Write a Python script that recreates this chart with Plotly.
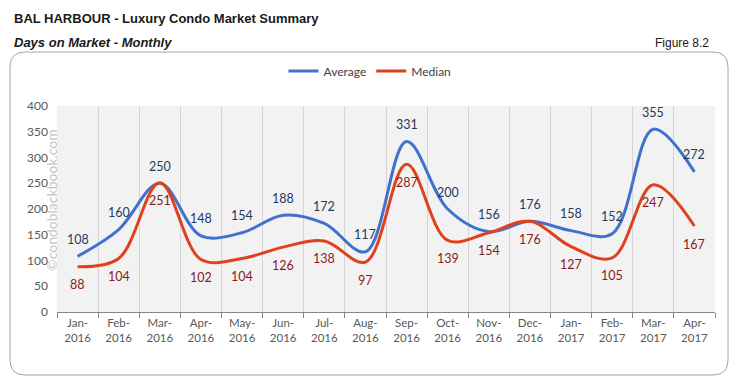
import plotly.graph_objects as go

months = ["Jan-<br>2016", "Feb-<br>2016", "Mar-<br>2016", "Apr-<br>2016", "May-<br>2016", "Jun-<br>2016",
          "Jul-<br>2016", "Aug-<br>2016", "Sep-<br>2016", "Oct-<br>2016", "Nov-<br>2016", "Dec-<br>2016",
          "Jan-<br>2017", "Feb-<br>2017", "Mar-<br>2017", "Apr-<br>2017"]
average = [108, 160, 250, 148, 154, 188, 172, 117, 331, 200, 156, 176, 158, 152, 355, 272]
median = [88, 104, 251, 102, 104, 126, 138, 97, 287, 139, 154, 176, 127, 105, 247, 167]

W, H = 739, 381
L, R, T, B = 57, 24, 106, 69
PW, PH = W - L - R, H - T - B

def px(x):
    return (x - L) / PW

def py(y):
    return (H - B - y) / PH

BLUE = "#4170CD"
RED = "#E0401C"
FONT = "Lato, 'Open Sans', sans-serif"

fig = go.Figure()
fig.add_trace(go.Scatter(x=months, y=average, mode="lines", name="Average",
                         line=dict(color=BLUE, width=3, shape="spline", smoothing=1.0)))
fig.add_trace(go.Scatter(x=months, y=median, mode="lines", name="Median",
                         line=dict(color=RED, width=3, shape="spline", smoothing=1.0)))

annotations = []
for m, v in zip(months, average):
    annotations.append(dict(x=m, y=v, xref="x", yref="y", text=str(v), showarrow=False,
                            yshift=17, font=dict(family=FONT, size=12.5, color="#243A5E")))
for m, v in zip(months, median):
    annotations.append(dict(x=m, y=v, xref="x", yref="y", text=str(v), showarrow=False,
                            yshift=-18, font=dict(family=FONT, size=12.5, color="#8B1A1A")))

annotations += [
    dict(x=px(12), y=py(18), xref="paper", yref="paper", xanchor="left", yanchor="middle",
         text="<b>BAL HARBOUR - Luxury Condo Market Summary</b>", showarrow=False,
         font=dict(family="Liberation Sans, Arial, sans-serif", size=13, color="#1a1a1a")),
    dict(x=px(12), y=py(43), xref="paper", yref="paper", xanchor="left", yanchor="middle",
         text="<b><i>Days on Market - Monthly</i></b>", showarrow=False,
         font=dict(family="Liberation Sans, Arial, sans-serif", size=13, color="#1a1a1a")),
    dict(x=px(711), y=py(43), xref="paper", yref="paper", xanchor="right", yanchor="middle",
         text="Figure 8.2", showarrow=False,
         font=dict(family="Liberation Sans, Arial, sans-serif", size=12, color="#1a1a1a")),
    dict(x=px(51), y=py(200), xref="paper", yref="paper", xanchor="center", yanchor="middle",
         text="©condoblackbook.com", textangle=-90, showarrow=False,
         font=dict(family=FONT, size=14, color="#C4C4C4")),
]

# rounded border
x0, x1, y0, y1, r = 10, 728, 52, 375, 15
path = (f"M {px(x0 + r)} {py(y0)} L {px(x1 - r)} {py(y0)} Q {px(x1)} {py(y0)} {px(x1)} {py(y0 + r)} "
        f"L {px(x1)} {py(y1 - r)} Q {px(x1)} {py(y1)} {px(x1 - r)} {py(y1)} "
        f"L {px(x0 + r)} {py(y1)} Q {px(x0)} {py(y1)} {px(x0)} {py(y1 - r)} "
        f"L {px(x0)} {py(y0 + r)} Q {px(x0)} {py(y0)} {px(x0 + r)} {py(y0)} Z")

fig.update_layout(
    width=W, height=H,
    margin=dict(l=L, r=R, t=T, b=B),
    paper_bgcolor="white",
    plot_bgcolor="#F2F2F2",
    showlegend=True,
    legend=dict(orientation="h", x=px(370), y=py(71), xanchor="center", yanchor="middle",
                font=dict(family=FONT, size=12, color="#404040"), itemwidth=30,
                bgcolor="rgba(0,0,0,0)"),
    annotations=annotations,
    shapes=[dict(type="path", path=path, xref="paper", yref="paper",
                 line=dict(color="#A6A6A6", width=1), layer="below")],
    xaxis=dict(type="category", tickson="boundaries", showgrid=True, gridcolor="#D4D4D4", gridwidth=1,
               ticks="outside", ticklen=5, tickcolor="#868686", showline=True, linecolor="#868686",
               linewidth=1, tickfont=dict(family=FONT, size=11.5, color="#595959"),
               range=[-0.5, 15.5], fixedrange=True),
    yaxis=dict(range=[0, 400], dtick=50, showgrid=False, zeroline=False, showline=False,
               tickfont=dict(family=FONT, size=12, color="#595959"), ticklabelstandoff=8,
               fixedrange=True),
)

fig.write_html("out.html", config={"displayModeBar": False},
               post_script="document.body.style.margin='0';document.body.style.overflow='hidden';")
